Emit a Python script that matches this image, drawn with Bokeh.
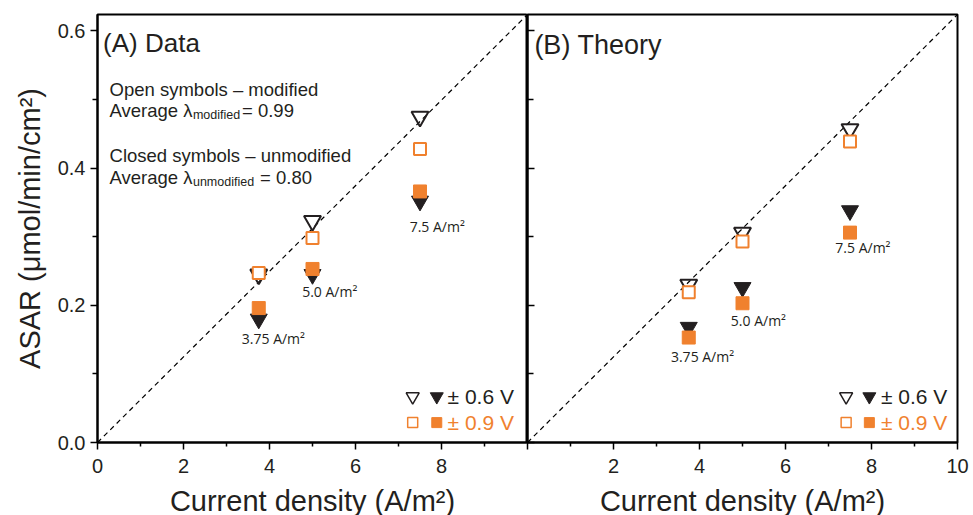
from bokeh.plotting import figure
from bokeh.layouts import row
from bokeh.models import FixedTicker, Label, Range1d, PrintfTickFormatter
from bokeh.core.properties import value
from bokeh.embed import file_html
from bokeh.resources import INLINE

FONT = "Liberation Sans"
SMALL_FONT = "Open Sans"
BLACK = "#231F20"
ORANGE = "#F0812E"

# ---------------- data ----------------
x_vals = [3.75, 5.0, 7.5]
data_open_tri = [0.245, 0.323, 0.475]
data_open_sq = [0.247, 0.298, 0.428]
data_fill_tri = [0.180, 0.245, 0.352]
data_fill_sq = [0.196, 0.253, 0.366]

theory_open_tri = [0.230, 0.306, 0.457]
theory_open_sq = [0.219, 0.293, 0.439]
theory_fill_tri = [0.168, 0.226, 0.338]
theory_fill_sq = [0.153, 0.203, 0.306]

diag_x = [0, 10]
diag_y = [0, 0.624]

point_labels = ["3.75 A/m\u00b2", "5.0 A/m\u00b2", "7.5 A/m\u00b2"]
left_lbl_x = [4.09, 5.40, 7.90]
left_lbl_y = [0.152, 0.220, 0.315]
right_lbl_x = [4.07, 5.37, 7.80]
right_lbl_y = [0.125, 0.178, 0.285]

x_ticks = [0, 2, 4, 6, 8, 10]
x_minor = [1, 3, 5, 7, 9]
y_ticks = [0.0, 0.2, 0.4, 0.6]
y_minor = [0.1, 0.3, 0.5]


def make_fig(left_border, right_border, hide_label):
    p = figure(frame_width=430, frame_height=428,
               x_range=Range1d(0, 10), y_range=Range1d(0, 0.624),
               output_backend="svg", toolbar_location=None,
               min_border_left=left_border, min_border_right=right_border,
               min_border_top=14, min_border_bottom=71)
    p.grid.visible = False
    p.outline_line_color = "black"
    p.outline_line_width = 2
    p.background_fill_color = "white"
    p.border_fill_color = "white"

    xa = p.xaxis[0]
    xa.ticker = FixedTicker(ticks=x_ticks, minor_ticks=x_minor)
    xa.major_label_overrides = {hide_label: ""}
    xa.axis_line_width = 2
    xa.major_tick_line_width = 1.5
    xa.minor_tick_line_width = 1.5
    xa.major_tick_out = 7
    xa.major_tick_in = 0
    xa.minor_tick_out = 4
    xa.minor_tick_in = 0
    xa.major_label_text_font = FONT
    xa.major_label_text_font_size = "20px"
    xa.major_label_text_color = BLACK
    xa.major_label_standoff = 9
    xa.axis_label = "Current density (A/m\u00b2)"
    xa.axis_label_text_font = FONT
    xa.axis_label_text_font_size = "29px"
    xa.axis_label_text_font_style = "normal"
    xa.axis_label_text_color = BLACK
    xa.axis_label_standoff = 9
    return p


p1 = make_fig(97, 0, 10)
p2 = make_fig(0, 12, 0)

# y axes
ya = p1.yaxis[0]
ya.ticker = FixedTicker(ticks=y_ticks, minor_ticks=y_minor)
ya.formatter = PrintfTickFormatter(format="%.1f")
ya.axis_line_width = 2
ya.major_tick_line_width = 1.5
ya.minor_tick_line_width = 1.5
ya.major_tick_out = 7
ya.major_tick_in = 0
ya.minor_tick_out = 5
ya.minor_tick_in = 0
ya.major_label_text_font = FONT
ya.major_label_text_font_size = "20px"
ya.major_label_text_color = BLACK
ya.major_label_standoff = 5
ya.axis_label = "ASAR (\u03bcmol/min/cm\u00b2)"
ya.axis_label_text_font = FONT
ya.axis_label_text_font_size = "29px"
ya.axis_label_text_font_style = "normal"
ya.axis_label_text_color = BLACK
ya.axis_label_standoff = 9

yb = p2.yaxis[0]
yb.ticker = FixedTicker(ticks=y_ticks, minor_ticks=y_minor)
yb.major_label_overrides = {t: "" for t in y_ticks}
yb.major_label_text_font_size = "0px"
yb.major_label_standoff = 0
yb.axis_line_width = 2
yb.major_tick_line_width = 1.5
yb.minor_tick_line_width = 1.5
yb.major_tick_out = 0
yb.major_tick_in = 7
yb.minor_tick_out = 0
yb.minor_tick_in = 6


def add_series(p, o_tri, o_sq, f_tri, f_sq):
    p.line(diag_x, diag_y, line_color="black", line_width=1.2, line_dash="5 4")
    p.scatter(x_vals, o_tri, marker="inverted_triangle", size=17,
              fill_color="white", fill_alpha=0, line_color=BLACK, line_width=2)
    p.scatter(x_vals, f_tri, marker="inverted_triangle", size=17,
              fill_color=BLACK, line_color=BLACK, line_width=1)
    p.scatter(x_vals, o_sq, marker="square", size=12,
              fill_color="white", line_color=ORANGE, line_width=2)
    p.scatter(x_vals, f_sq, marker="square", size=13,
              fill_color=ORANGE, line_color=ORANGE, line_width=1)


add_series(p1, data_open_tri, data_open_sq, data_fill_tri, data_fill_sq)
add_series(p2, theory_open_tri, theory_open_sq, theory_fill_tri, theory_fill_sq)

p1.text(left_lbl_x, left_lbl_y, text=point_labels, text_font=value(SMALL_FONT),
        text_font_size="14px", text_align="center", text_baseline="middle",
        text_color=BLACK)
p2.text(right_lbl_x, right_lbl_y, text=point_labels, text_font=value(SMALL_FONT),
        text_font_size="14px", text_align="center", text_baseline="middle",
        text_color=BLACK)


def legend(p, x_open, x_fill, x_text):
    rows_y = [0.067, 0.029]
    p.scatter([x_open], [rows_y[0]], marker="inverted_triangle", size=13,
              fill_color="white", line_color=BLACK, line_width=1.5)
    p.scatter([x_fill], [rows_y[0]], marker="inverted_triangle", size=13,
              fill_color=BLACK, line_color=BLACK)
    p.scatter([x_open], [rows_y[1]], marker="square", size=10,
              fill_color="white", line_color=ORANGE, line_width=1.5)
    p.scatter([x_fill], [rows_y[1]], marker="square", size=10,
              fill_color=ORANGE, line_color=ORANGE)
    p.add_layout(Label(x=x_text, y=rows_y[0], text="\u00b1 0.6 V", text_font=FONT,
                       text_font_size="21px", text_color=BLACK, text_baseline="middle"))
    p.add_layout(Label(x=x_text, y=rows_y[1], text="\u00b1 0.9 V", text_font=FONT,
                       text_font_size="21px", text_color=ORANGE, text_baseline="middle"))


legend(p1, 7.33, 7.89, 8.14)
legend(p2, 7.41, 7.95, 8.22)

# panel titles
p1.add_layout(Label(x=0.13, y=0.582, text="(A) Data", text_font=FONT,
                    text_font_size="26px", text_color=BLACK, text_baseline="alphabetic"))
p2.add_layout(Label(x=0.16, y=0.580, text="(B) Theory", text_font=FONT,
                    text_font_size="27px", text_color=BLACK, text_baseline="alphabetic"))

# annotation texts (panel A)
def lab(p, x, y, t, size):
    p.add_layout(Label(x=x, y=y, text=t, text_font=FONT, text_font_size=size,
                       text_color=BLACK, text_baseline="alphabetic"))

lab(p1, 0.28, 0.514, "Open symbols \u2013 modified", "18.5px")
lab(p1, 0.28, 0.484, "Average \u03bb", "18.5px")
lab(p1, 2.22, 0.477, "modified", "12.5px")
lab(p1, 3.36, 0.484, "= 0.99", "18.5px")
lab(p1, 0.28, 0.419, "Closed symbols \u2013 unmodified", "18.5px")
lab(p1, 0.28, 0.387, "Average \u03bb", "18.5px")
lab(p1, 2.22, 0.380, "unmodified", "12.5px")
lab(p1, 3.78, 0.387, "= 0.80", "18.5px")

layout = row(p1, p2)
open("out.html", "w").write(file_html(layout, INLINE))
